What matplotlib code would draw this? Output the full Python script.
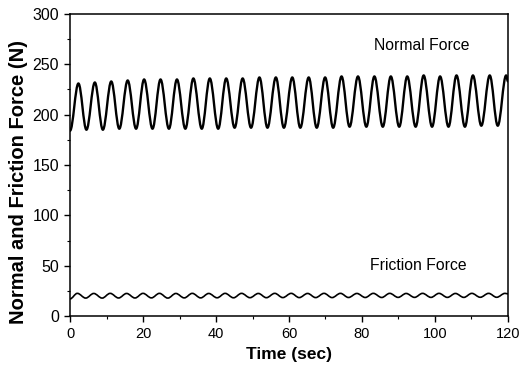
import matplotlib
matplotlib.use("Agg")
import matplotlib.pyplot as plt
from matplotlib.path import Path
from matplotlib.patches import PathPatch

plt.rcParams['font.family'] = ['Liberation Sans', 'DejaVu Sans']

# ---- data ----
# Normal force: times (s) and values (N) of successive troughs / peaks
normal_peak_t = [2.3, 6.8, 11.3, 15.8, 20.3, 24.8, 29.3, 33.8, 38.3, 42.8, 47.3,
                 51.9, 56.4, 60.9, 65.4, 69.9, 74.4, 78.9, 83.4, 87.9, 92.4,
                 96.9, 101.4, 105.9, 110.4, 115.0, 119.5]
normal_peak_v = [231, 232, 233, 234, 235, 235, 235, 236, 236, 236, 236,
                 237, 237, 237, 237, 237, 238, 238, 238, 238, 238,
                 239, 238, 239, 239, 239, 239]
normal_trough_t = [0.0, 4.5, 9.0, 13.5, 18.1, 22.6, 27.1, 31.6, 36.1, 40.6, 45.1,
                   49.6, 54.1, 58.6, 63.1, 67.6, 72.1, 76.6, 81.2, 85.7, 90.2,
                   94.7, 99.2, 103.7, 108.2, 112.7, 117.2]
normal_trough_v = [184, 185, 185, 186, 186, 186, 186, 186, 186, 186, 187,
                   187, 187, 187, 187, 187, 187, 188, 188, 188, 188,
                   188, 188, 188, 188, 189, 189]
normal_end = (120.0, 233)

# Friction force: times (s) and values (N) of successive troughs / peaks
friction_peak_t = [2.0, 6.5, 11.0, 15.5, 20.0, 24.5, 29.0, 33.5, 38.0, 42.5, 47.0,
                   51.6, 56.1, 60.6, 65.1, 69.6, 74.1, 78.6, 83.1, 87.6, 92.1,
                   96.6, 101.1, 105.6, 110.1, 114.7, 119.2]
friction_peak_v = [22.5, 22.4, 22.5, 22.4, 22.5, 22.5, 22.4, 22.5, 22.4, 22.5, 22.5,
                   22.4, 22.5, 22.5, 22.4, 22.5, 22.5, 22.4, 22.5, 22.5, 22.4,
                   22.5, 22.5, 22.4, 22.5, 22.5, 22.5]
friction_trough_t = [0.0, 4.3, 8.8, 13.3, 17.8, 22.3, 26.8, 31.3, 35.8, 40.3, 44.8,
                     49.3, 53.8, 58.3, 62.8, 67.3, 71.8, 76.3, 80.9, 85.4, 89.9,
                     94.4, 98.9, 103.4, 107.9, 112.4, 116.9]
friction_trough_v = [17.0, 17.8, 17.8, 17.9, 17.9, 18.0, 17.8, 18.0, 18.0, 18.1, 18.1,
                     18.2, 18.2, 18.3, 18.3, 18.3, 18.3, 18.4, 18.4, 18.4, 18.5,
                     18.5, 18.5, 18.5, 18.5, 18.6, 18.6]
friction_end = (120.0, 22.0)

x_ticks = [0, 20, 40, 60, 80, 100, 120]
y_ticks = [0, 50, 100, 150, 200, 250, 300]


def extrema(tr_t, tr_v, pk_t, pk_v, end):
    pts = []
    for a, b, c, d in zip(tr_t, tr_v, pk_t, pk_v):
        pts.append((a, b))
        pts.append((c, d))
    pts.append(end)
    return pts


def smooth_path(pts, k=0.363):
    verts = [pts[0]]
    codes = [Path.MOVETO]
    for (t0, y0), (t1, y1) in zip(pts[:-1], pts[1:]):
        dt = t1 - t0
        verts += [(t0 + k * dt, y0), (t1 - k * dt, y1), (t1, y1)]
        codes += [Path.CURVE4] * 3
    return Path(verts, codes)


fig = plt.figure(figsize=(5.21, 3.78), dpi=100)
ax = fig.add_axes([0.1344, 0.164, 0.8406, 0.799])

normal_pts = extrema(normal_trough_t, normal_trough_v, normal_peak_t, normal_peak_v, normal_end)
friction_pts = extrema(friction_trough_t, friction_trough_v, friction_peak_t, friction_peak_v, friction_end)

ax.add_patch(PathPatch(smooth_path(normal_pts), fill=False, edgecolor='black',
                       linewidth=1.7, joinstyle='round', capstyle='round'))
ax.add_patch(PathPatch(smooth_path(friction_pts), fill=False, edgecolor='black',
                       linewidth=1.2, joinstyle='round', capstyle='round'))

ax.set_xlim(0, 120)
ax.set_ylim(0, 300)
ax.set_xticks(x_ticks)
ax.set_yticks(y_ticks)
ax.set_xticks([10, 30, 50, 70, 90, 110], minor=True)
ax.set_yticks([25, 75, 125, 175, 225, 275], minor=True)
ax.tick_params(which='major', direction='out', length=4.5, width=1.0,
               top=False, right=False)
ax.tick_params(axis='x', which='major', labelsize=10.5)
ax.tick_params(axis='y', which='major', labelsize=11.5)
ax.tick_params(which='minor', direction='out', length=2.5, width=0.8, top=False, right=False)
for s in ax.spines.values():
    s.set_linewidth(1.1)

ax.set_xlabel('Time (sec)', fontsize=12.5, fontweight='bold')
ax.set_ylabel('Normal and Friction Force (N)', fontsize=14.5, fontweight='bold')
ax.xaxis.label.set_va('center')
ax.yaxis.label.set_va('center')
ax.xaxis.set_label_coords(0.5, -0.126)
ax.yaxis.set_label_coords(-0.1187, 0.444)

ax.text(96.5, 269, 'Normal Force', fontsize=11.3, ha='center', va='center')
ax.text(95.5, 49.7, 'Friction Force', fontsize=11.3, ha='center', va='center')

fig.savefig('out.png', dpi=100)
